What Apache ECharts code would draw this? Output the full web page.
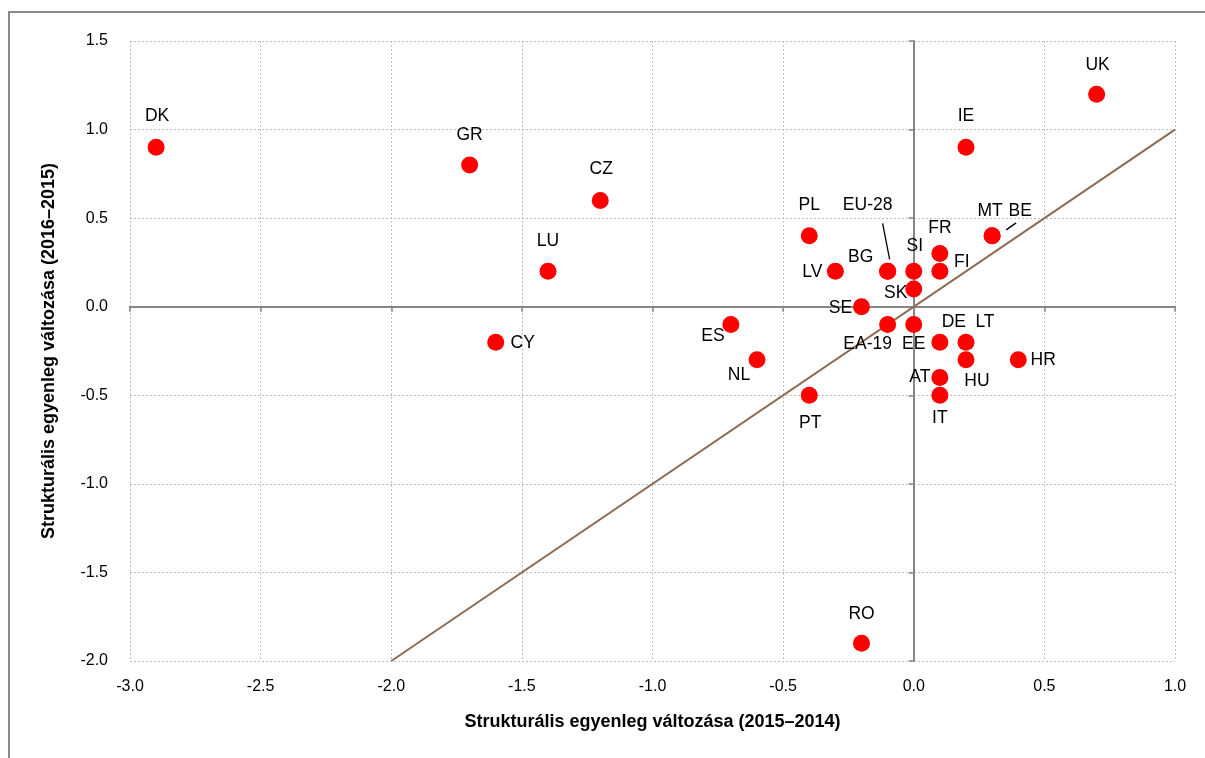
<!DOCTYPE html>
<html><head><meta charset="utf-8">
<script src="https://cdn.jsdelivr.net/npm/echarts@6/dist/echarts.min.js"></script>
<style>html,body{margin:0;padding:0;background:#fff;}#c{width:1205px;height:758px;}</style>
</head><body><div id="c"></div>
<script>
// ---- data ----
const countries = ['DK','GR','CZ','LU','CY','ES','NL','PT','PL','LV','SE','BG','EU-28','SI','SK','EA-19','EE','FR','FI','MT','BE','DE','LT','HU','HR','AT','IT','IE','UK','RO'];
const change2015 = [-2.9,-1.7,-1.2,-1.4,-1.6,-0.7,-0.6,-0.4,-0.4,-0.3,-0.2,-0.1,-0.1,0.0,0.0,-0.1,0.0,0.1,0.1,0.3,0.3,0.1,0.2,0.2,0.4,0.1,0.1,0.2,0.7,-0.2];
const change2016 = [0.9,0.8,0.6,0.2,-0.2,-0.1,-0.3,-0.5,0.4,0.2,0.0,0.2,0.2,0.2,0.1,-0.1,-0.1,0.3,0.2,0.4,0.4,-0.2,-0.2,-0.3,-0.3,-0.4,-0.5,0.9,1.2,-1.9];
const xTicks = [-3.0,-2.5,-2.0,-1.5,-1.0,-0.5,0.0,0.5,1.0];
const yTicks = [-2.0,-1.5,-1.0,-0.5,0.0,0.5,1.0,1.5];
const diagonal = [[-2,-2],[1,1]];
const xTitle = 'Strukturális egyenleg változása (2015–2014)';
const yTitle = 'Strukturális egyenleg változása (2016–2015)';

// ---- label placement (pixel offsets from marker centre) ----
const labelOffset = {
  'DK':[1,-31],'GR':[0,-30],'CZ':[1,-31],'LU':[0,-30],'CY':[27,1],'ES':[-18,12],'NL':[-18,15],
  'PT':[1,28],'PL':[0,-31],'LV':[-23,1],'SE':[-21,1],'BG':[-27,-14],'EU-28':[-20,-66],'SI':[1,-25],
  'SK':[-18,4],'EA-19':[-20,20],'EE':[0,20],'FR':[0,-25],'FI':[22,-9],'MT':[-2,-25],'BE':[28,-25],
  'DE':[14,-20],'LT':[19,-20],'HU':[11,21],'HR':[25,0],'AT':[-20,0],'IT':[0,23],'IE':[0,-31],
  'UK':[1,-29],'RO':[0,-29]
};
const leaders = {'EU-28':[[-5,-48],[2,-12]], 'BE':[[14,-6],[24,-13]]};

const FONT = '"Liberation Sans",sans-serif';
const xMin = xTicks[0], xMax = xTicks[xTicks.length-1];
const yMin = yTicks[0], yMax = yTicks[yTicks.length-1];

const pts = countries.map((c,i)=>({
  name:c, value:[change2015[i],change2016[i]],
  label:{offset:labelOffset[c]}
}));

const chart = echarts.init(document.getElementById('c'));
const gridLine = {show:true, lineStyle:{color:'#bfbfbf', type:[2,2], width:1}};
const frame = {type:'polyline', shape:{points:[[9,758],[9,12],[1205,12]]}, style:{stroke:'#8a8a8a', lineWidth:2, fill:null}, silent:true};
chart.setOption({
  animation:false,
  backgroundColor:'#fff',
  grid:{left:130, right:30, top:41, bottom:97, containLabel:false},
  xAxis:[
    {type:'value', min:xMin, max:xMax, interval:0.5, position:'bottom',
     axisLine:{show:false, onZero:false}, axisTick:{show:false}, splitLine:gridLine,
     axisLabel:{color:'#000', fontFamily:FONT, fontSize:16, margin:18, formatter:v=>v.toFixed(1)},
     name:xTitle, nameLocation:'middle', nameGap:52,
     nameTextStyle:{fontFamily:FONT, fontWeight:'bold', fontSize:18, color:'#000'}},
    {type:'value', min:xMin, max:xMax, interval:0.5, position:'bottom',
     axisLine:{show:true, onZero:true, onZeroAxisIndex:0, lineStyle:{color:'#868686', width:2}},
     axisTick:{show:true, length:5, lineStyle:{color:'#868686', width:1.5}},
     axisLabel:{show:false}, splitLine:{show:false}}
  ],
  yAxis:[
    {type:'value', min:yMin, max:yMax, interval:0.5, position:'left',
     axisLine:{show:false, onZero:false}, axisTick:{show:false}, splitLine:gridLine,
     axisLabel:{color:'#000', fontFamily:FONT, fontSize:16, margin:22, formatter:v=>v.toFixed(1)},
     name:yTitle, nameLocation:'middle', nameGap:72, nameRotate:90,
     nameTextStyle:{fontFamily:FONT, fontWeight:'bold', fontSize:18, color:'#000'}},
    {type:'value', min:yMin, max:yMax, interval:0.5, position:'left',
     axisLine:{show:true, onZero:true, onZeroAxisIndex:0, lineStyle:{color:'#868686', width:2}},
     axisTick:{show:true, length:5, lineStyle:{color:'#868686', width:1.5}},
     axisLabel:{show:false}, splitLine:{show:false}}
  ],
  series:[
    {type:'line', data:diagonal, symbol:'none', silent:true,
     lineStyle:{color:'#8c6b4f', width:2}, z:3},
    {type:'scatter', data:pts, symbolSize:17, z:5,
     itemStyle:{color:'#ff0000', opacity:1},
     label:{show:true, position:'inside', formatter:p=>p.name, color:'#000', opacity:1,
            textBorderWidth:0, fontFamily:FONT, fontSize:17.5}}
  ],
  graphic:[frame]
});

// leader lines anchored at the data point
const extra = [];
countries.forEach((c,i)=>{
  if(!leaders[c]) return;
  const p = chart.convertToPixel({xAxisIndex:0,yAxisIndex:0},[change2015[i],change2016[i]]);
  const [a,b] = leaders[c];
  extra.push({type:'line', shape:{x1:p[0]+a[0],y1:p[1]+a[1],x2:p[0]+b[0],y2:p[1]+b[1]}, style:{stroke:'#000',lineWidth:1.3}, z:10, silent:true});
});
chart.setOption({graphic:[frame].concat(extra)});
</script></body></html>
